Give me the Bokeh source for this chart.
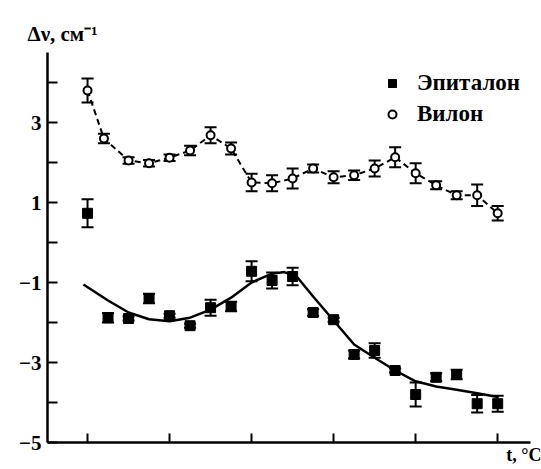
from bokeh.plotting import figure
from bokeh.models import Range1d, FixedTicker, ColumnDataSource, Whisker, TeeHead, Legend, LegendItem, Title
from bokeh.embed import file_html
from bokeh.resources import INLINE

# ---- data (x in units of the unlabeled temperature ticks) ----
t_epit = [0, 0.25, 0.5, 0.75, 1.0, 1.25, 1.5, 1.75, 2.0, 2.25, 2.5, 2.75, 3.0, 3.25, 3.5, 3.75, 4.0, 4.25, 4.5, 4.75, 5.0]
v_epit = [0.73, -1.88, -1.9, -1.4, -1.83, -2.08, -1.63, -1.6, -0.72, -0.95, -0.85, -1.75, -1.93, -2.8, -2.7, -3.2, -3.8, -3.37, -3.3, -4.03, -4.03]
e_epit = [0.35, 0.12, 0.05, 0.12, 0.05, 0.05, 0.2, 0.12, 0.25, 0.2, 0.22, 0.08, 0.05, 0.1, 0.18, 0.05, 0.3, 0.1, 0.12, 0.22, 0.2]

t_vil = [0, 0.2, 0.5, 0.75, 1.0, 1.25, 1.5, 1.75, 2.0, 2.25, 2.5, 2.75, 3.0, 3.25, 3.5, 3.75, 4.0, 4.25, 4.5, 4.75, 5.0]
v_vil = [3.8, 2.6, 2.05, 1.98, 2.12, 2.3, 2.68, 2.35, 1.5, 1.48, 1.6, 1.85, 1.63, 1.68, 1.85, 2.13, 1.73, 1.43, 1.18, 1.18, 0.73]
e_vil = [0.3, 0.12, 0.08, 0.08, 0.08, 0.12, 0.2, 0.15, 0.22, 0.2, 0.25, 0.1, 0.15, 0.12, 0.2, 0.25, 0.25, 0.1, 0.1, 0.27, 0.18]

fit_t = [-0.05, 0.25, 0.5, 0.75, 1.0, 1.25, 1.5, 1.75, 2.0, 2.25, 2.4, 2.55, 2.75, 3.0, 3.25, 3.5, 3.75, 4.0, 4.25, 4.5, 4.75, 5.0]
fit_v = [-1.05, -1.45, -1.75, -1.92, -1.97, -1.88, -1.68, -1.38, -1.0, -0.78, -0.74, -0.85, -1.35, -1.95, -2.55, -2.88, -3.2, -3.47, -3.6, -3.68, -3.77, -3.86]

x_ticks = [0, 1, 2, 3, 4, 5]
y_ticks = [-5, -4, -3, -2, -1, 0, 1, 2, 3, 4]
y_labels = {-5: "\u22125", -4: "", -3: "\u22123", -2: "", -1: "\u22121", 0: "", 1: "1", 2: "", 3: "3", 4: ""}

FONT = "Liberation Serif"

p = figure(width=541, height=469, x_range=Range1d(-0.488, 5.40), y_range=Range1d(-5, 4.75),
           output_backend="svg", toolbar_location=None,
           min_border_left=47, min_border_right=11, min_border_top=52, min_border_bottom=27)
p.outline_line_color = None
p.grid.visible = False

# y axis title as a left-aligned title above the frame
p.title = Title(text="Δν, см\u207B\u00B9", align="left", offset=-20, standoff=14,
                text_font=FONT, text_font_style="bold", text_font_size="21px", text_color="black")

# axes
p.xaxis.ticker = FixedTicker(ticks=x_ticks)
p.xaxis.major_label_overrides = {k: "" for k in x_ticks}
p.xaxis.major_label_text_font_size = "0px"
p.xaxis.major_label_standoff = 0
p.xaxis.major_tick_in = 9
p.xaxis.major_tick_out = 0
p.xaxis.minor_tick_line_color = None
p.xaxis.axis_line_width = 2.5
p.xaxis.major_tick_line_width = 2

p.yaxis.ticker = FixedTicker(ticks=y_ticks)
p.yaxis.major_label_overrides = y_labels
p.yaxis.major_label_text_font = FONT
p.yaxis.major_label_text_font_style = "bold"
p.yaxis.major_label_text_font_size = "21px"
p.yaxis.major_label_text_color = "black"
p.yaxis.major_label_standoff = 6
p.yaxis.major_tick_in = 10
p.yaxis.major_tick_out = 0
p.yaxis.minor_tick_line_color = None
p.yaxis.axis_line_width = 2.5
p.yaxis.major_tick_line_width = 2

# x axis title at the lower right
p.add_layout(Title(text="t, °C", align="right", offset=-11, standoff=0,
                   text_font=FONT, text_font_style="bold", text_font_size="18px", text_color="black"), "below")

# fit curve for Эпиталон
p.line(fit_t, fit_v, line_color="black", line_width=2.5)

# Вилон dashed line
p.line(t_vil, v_vil, line_color="black", line_width=2, line_dash="6 4")

# error bars
src_e = ColumnDataSource(dict(t=t_epit, lo=[v - e for v, e in zip(v_epit, e_epit)], hi=[v + e for v, e in zip(v_epit, e_epit)]))
src_v = ColumnDataSource(dict(t=t_vil, lo=[v - e for v, e in zip(v_vil, e_vil)], hi=[v + e for v, e in zip(v_vil, e_vil)]))
for s in (src_e, src_v):
    w = Whisker(source=s, base="t", lower="lo", upper="hi", line_width=2, line_color="black",
                upper_head=TeeHead(size=12, line_width=2, line_color="black"),
                lower_head=TeeHead(size=12, line_width=2, line_color="black"))
    p.add_layout(w)

r_e = p.scatter(t_epit, v_epit, marker="square", size=10, fill_color="black", line_color="black")
r_v = p.scatter(t_vil, v_vil, marker="circle", size=8, fill_color="white", line_color="black", line_width=2)

legend = Legend(items=[LegendItem(label="Эпиталон", renderers=[r_e]),
                       LegendItem(label="Вилон", renderers=[r_v])],
                location=(335, 315), orientation="vertical",
                glyph_width=20, glyph_height=20, label_height=20, spacing=5,
                label_standoff=15, padding=0, margin=0,
                border_line_color=None, background_fill_alpha=0,
                label_text_font=FONT, label_text_font_style="bold",
                label_text_font_size="23px", label_text_color="black")
p.add_layout(legend, "center")

open("out.html", "w").write(file_html(p, INLINE))
